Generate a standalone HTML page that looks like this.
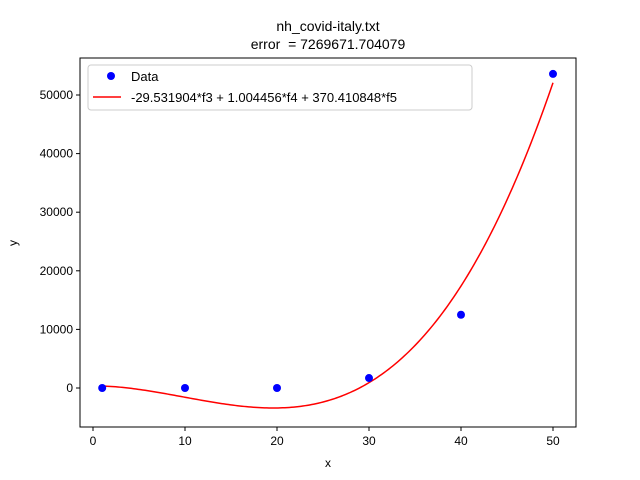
<!DOCTYPE html>
<html><head><meta charset="utf-8"><style>
body{margin:0;background:#fff;}
svg{display:block;font-family:"Liberation Sans","DejaVu Sans",sans-serif;}
</style></head><body>
<svg id="chart" width="640" height="480">
<rect width="640" height="480" fill="#fff"/>
<text x="328" y="31" text-anchor="middle" font-size="14">nh_covid-italy.txt</text>
<text x="328" y="49" text-anchor="middle" font-size="14" style="white-space:pre">error &#160;= 7269671.704079</text>
<g id="plot"></g>
<rect x="80" y="58" width="496" height="369" fill="none" stroke="#000" stroke-width="1"/>
<text x="328" y="467" text-anchor="middle" font-size="12">x</text>
<text x="17" y="243" text-anchor="middle" font-size="12" transform="rotate(-90 17 243)">y</text>
<g>
<rect x="88" y="65" width="384" height="45" rx="3" fill="#fff" stroke="#ccc"/>
<circle cx="111" cy="76" r="4" fill="#0000ff"/>
<text x="131" y="81" font-size="13">Data</text>
<line x1="93" y1="97" x2="121" y2="97" stroke="#ff0000" stroke-width="1.5"/>
<text x="131" y="102" font-size="13">-29.531904*f3 + 1.004456*f4 + 370.410848*f5</text>
</g>
</svg>
<script>
const xData = [1, 10, 20, 30, 40, 50];
const yData = [0, 0, 0, 1700, 12500, 53600];
const coef = [-29.531904, 1.004456, 370.410848];
const xTicks = [0, 10, 20, 30, 40, 50];
const yTicks = [0, 10000, 20000, 30000, 40000, 50000];
const X = v => 93 + (v) * 9.2;
const Y = v => 388 - v * 0.00586;
const NS = "http://www.w3.org/2000/svg";
const g = document.getElementById('plot');
function mk(t, a){const e=document.createElementNS(NS,t);for(const k in a)e.setAttribute(k,a[k]);g.appendChild(e);return e;}
xTicks.forEach(t=>{
  const l=mk('line',{x1:X(t),x2:X(t),y1:427,y2:431,stroke:'#000'});
  
  
  const s=mk('text',{x:X(t),y:445,'text-anchor':'middle','font-size':12});
  s.textContent=t;
  
  
});
yTicks.forEach(t=>{
  const l=mk('line',{x1:76,x2:80,y1:Y(t),y2:Y(t),stroke:'#000'});
  
  
  const s=mk('text',{x:73,y:Y(t)+4,'text-anchor':'end','font-size':12});
  s.textContent=t;
  
  
});
let d='';
for(let i=0;i<=200;i++){
  const x=1+49*i/200;
  const y=coef[0]*x*x+coef[1]*x*x*x+coef[2];
  d+=(i?'L':'M')+X(x).toFixed(2)+','+Y(y).toFixed(2);
}
const p=mk('path',{d:d,fill:'none',stroke:'#ff0000','stroke-width':1.5});


xData.forEach((x,i)=>{
  const c=mk('circle',{cx:X(x),cy:Y(yData[i]),r:4,fill:'#0000ff'});
  
  
});
</script>
</body></html>
